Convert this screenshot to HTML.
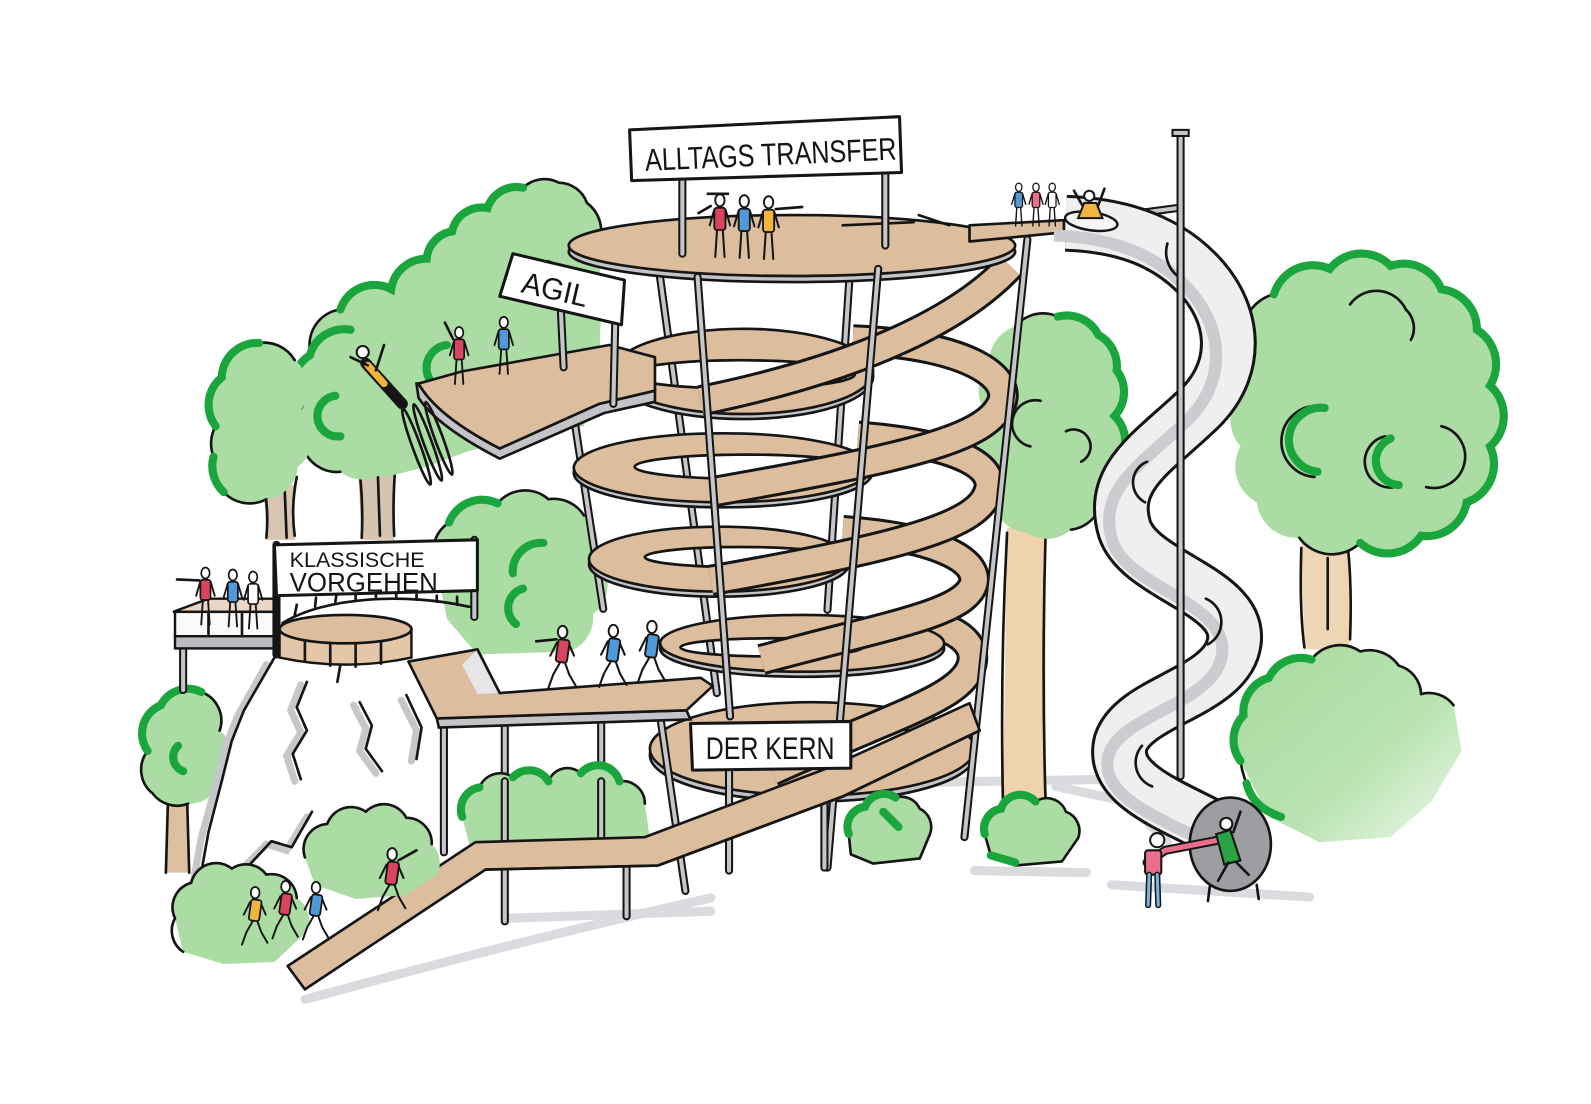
<!DOCTYPE html>
<html><head><meta charset="utf-8">
<style>
html,body{margin:0;padding:0;background:#fff;}
svg{display:block;}
text{font-family:"Liberation Sans",sans-serif;fill:#141414;}
</style></head><body>
<svg width="1591" height="1104" viewBox="0 0 1567 1088" xmlns="http://www.w3.org/2000/svg">
<defs>
<style>
.k{fill:none;stroke:#151515;stroke-width:2.6;stroke-linecap:round;stroke-linejoin:round}
.g{fill:#abdca3}
.dg{fill:none;stroke:#1aa63c;stroke-width:8;stroke-linecap:round}
.sh{fill:none;stroke:#dadbde;stroke-width:9;stroke-linecap:round}
.tan{fill:#dcbd9d;stroke:#151515;stroke-width:2.6;stroke-linejoin:round}
.rim{fill:#c4c4c8;stroke:#151515;stroke-width:2.6}
.pk{stroke:#151515;stroke-width:8;stroke-linecap:round}
.pg{stroke:#c6c6ca;stroke-width:4;stroke-linecap:round}
.bk{fill:none;stroke:#151515;stroke-width:31;stroke-linecap:butt}
.bt{fill:none;stroke:#dcbd9d;stroke-width:25;stroke-linecap:butt}
</style>
<linearGradient id="b1g" x1="0" y1="0" x2="1" y2="1">
<stop offset="0" stop-color="#a6da9e"/><stop offset="0.6" stop-color="#b9e3b1"/><stop offset="1" stop-color="#f0f9ee"/>
</linearGradient>
<mask id="tm"><rect x="0" y="0" width="1567" height="1088" fill="black"/>
<path d="M1050,220 C1110,222 1150,240 1178,268 C1218,308 1222,362 1182,402 C1135,447 1092,470 1108,522 C1124,568 1222,582 1216,632 C1210,682 1118,690 1104,732 C1094,772 1150,792 1196,816" stroke="white" stroke-width="52" fill="none"/></mask>
<symbol id="ps" viewBox="0 0 24 70" overflow="visible">
<g stroke="#151515" stroke-width="2.2" stroke-linecap="round" fill="none">
<line x1="9" y1="38" x2="7" y2="68"/><line x1="15" y1="38" x2="17" y2="68"/>
<line x1="6" y1="17" x2="1" y2="34"/><line x1="18" y1="17" x2="23" y2="34"/></g>
<rect x="6" y="15" width="12" height="24" rx="3" fill="currentColor" stroke="#151515" stroke-width="2"/>
<ellipse cx="12" cy="7" rx="5" ry="6.5" fill="#fff" stroke="#151515" stroke-width="2"/>
</symbol>
<symbol id="pw" viewBox="0 0 30 70" overflow="visible">
<g stroke="#151515" stroke-width="2.2" stroke-linecap="round" fill="none">
<polyline points="13,38 5,52 0,66"/><polyline points="17,38 22,52 29,64"/>
<line x1="9" y1="18" x2="2" y2="32"/><line x1="21" y1="18" x2="27" y2="32"/></g>
<rect x="9" y="15" width="12" height="24" rx="3" fill="currentColor" stroke="#151515" stroke-width="2" transform="rotate(8 15 27)"/>
<ellipse cx="15" cy="7" rx="5" ry="6.5" fill="#fff" stroke="#151515" stroke-width="2"/>
</symbol>
</defs>

<!-- ground shadows -->
<path class="sh" d="M850,772 L1095,768"/>
<path class="sh" d="M960,858 L1070,860"/>
<path class="sh" d="M1095,872 L1290,884"/>
<path class="sh" d="M300,985 C400,958 520,925 700,885"/>
<path class="sh" d="M500,905 L700,898"/>
<path class="sh" d="M1040,775 L1110,790 L1150,830"/>

<!-- trunks -->
<path d="M258,478 Q262,505 262,532 L290,532 Q288,505 292,478 Z" fill="#d8c6b2"/>
<path class="k" d="M258,470 Q265,500 262,530 M280,480 L282,530 M292,470 Q286,500 290,528"/>
<path d="M352,455 L356,532 L388,532 L390,455 Z" fill="#d6c4b0"/>
<path class="k" d="M352,450 Q358,490 356,530 M372,470 L374,528 M390,450 Q386,490 388,528"/>
<path d="M165,790 L163,860 L186,860 L184,790 Z" fill="#dcc0a0"/>
<path class="k" d="M165,790 L163,860 M184,790 L186,860"/>
<path d="M992,520 L988,792 L1030,792 L1030,520 Z" fill="#eed3ae"/>
<path class="k" d="M992,525 Q985,660 988,792 M1030,525 Q1026,660 1030,792"/>
<path d="M1282,535 L1285,640 L1330,640 L1328,535 Z" fill="#eed6b5"/>
<path class="k" d="M1282,540 Q1280,600 1285,638 M1308,550 L1308,620 M1328,540 Q1332,580 1330,630"/>

<!-- left trees -->
<path class="g" d="M305,345 A35 35 0 0 1 335,305 A35 35 0 0 1 385,285 A35 35 0 0 1 420,255 A30 30 0 0 1 445,228 A30 30 0 0 1 480,205 A30 30 0 0 1 515,185 A30 30 0 0 1 550,180 A30 30 0 0 1 578,200 A35 35 0 0 1 590,240 L592,300 L590,360 L575,420 L520,430 L460,445 L420,460 L380,470 L330,460 L305,410 Z"/>
<path class="k" d="M305,345 A35 35 0 0 1 335,305 A35 35 0 0 1 385,285 A35 35 0 0 1 420,255 A30 30 0 0 1 445,228 A30 30 0 0 1 480,205 A30 30 0 0 1 515,185 A30 30 0 0 1 550,180 A30 30 0 0 1 578,200 A35 35 0 0 1 590,240"/>
<path class="dg" d="M335,305 A35 35 0 0 1 385,285 A35 35 0 0 1 420,255 A30 30 0 0 1 445,228 A30 30 0 0 1 480,205 A30 30 0 0 1 515,185"/>
<path class="dg" d="M440,340 A22 22 0 0 0 445,385 M540,260 A18 18 0 0 0 545,300"/>
<path class="g" d="M295,400 A35 35 0 0 1 305,350 A35 35 0 0 1 345,325 A35 35 0 0 1 385,325 A35 35 0 0 1 398,365 A35 35 0 0 1 398,420 A35 35 0 0 1 382,462 A35 35 0 0 1 335,465 A35 35 0 0 1 298,440 A35 35 0 0 1 295,400 Z"/>
<path class="k" d="M295,400 A35 35 0 0 1 305,350 A35 35 0 0 1 345,325 M335,465 A35 35 0 0 1 298,440 A35 35 0 0 1 295,400"/>
<path class="dg" d="M295,400 A35 35 0 0 1 305,350 A35 35 0 0 1 345,325 M330,390 A20 20 0 0 0 335,430"/>
<path class="g" d="M212,420 A35 35 0 0 1 218,372 A35 35 0 0 1 255,338 A35 35 0 0 1 290,355 A35 35 0 0 1 295,405 A35 35 0 0 1 293,460 A35 35 0 0 1 262,492 A35 35 0 0 1 220,485 A35 35 0 0 1 210,450 A35 35 0 0 1 212,420 Z"/>
<path class="k" d="M212,420 A35 35 0 0 1 218,372 A35 35 0 0 1 255,338 A35 35 0 0 1 290,355 M262,492 A35 35 0 0 1 220,485 A35 35 0 0 1 210,450 A35 35 0 0 1 212,420"/>
<path class="dg" d="M212,420 A35 35 0 0 1 218,372 A35 35 0 0 1 255,338 M220,485 A35 35 0 0 1 210,450"/>
<path class="g" d="M430,560 A35 35 0 0 1 442,515 A35 35 0 0 1 490,496 A35 35 0 0 1 540,492 A35 35 0 0 1 575,508 A35 35 0 0 1 586,550 A35 35 0 0 1 584,605 A35 35 0 0 1 560,642 L470,645 L440,610 Z"/>
<path class="k" d="M430,560 A35 35 0 0 1 442,515 A35 35 0 0 1 490,496 A35 35 0 0 1 540,492 A35 35 0 0 1 575,508"/>
<path class="dg" d="M442,515 A35 35 0 0 1 490,496 M505,565 A28 28 0 0 1 535,535 M508,615 A20 20 0 0 1 515,580"/>
<path class="g" d="M145,740 A30 30 0 0 1 158,695 A30 30 0 0 1 198,682 A30 30 0 0 1 216,720 A30 30 0 0 1 216,768 A30 30 0 0 1 185,792 A30 30 0 0 1 150,782 A30 30 0 0 1 145,740 Z"/>
<path class="k" d="M145,740 A30 30 0 0 1 158,695 A30 30 0 0 1 198,682 A30 30 0 0 1 216,720 M185,792 A30 30 0 0 1 150,782 A30 30 0 0 1 145,740"/>
<path class="dg" d="M145,740 A30 30 0 0 1 158,695 A30 30 0 0 1 198,682 M175,735 A15 15 0 0 0 180,760"/>

<!-- right-middle tree -->
<path class="g" d="M975,360 A35 35 0 0 1 1000,322 A35 35 0 0 1 1042,312 A35 35 0 0 1 1082,330 A35 35 0 0 1 1100,365 A35 35 0 0 1 1098,410 A35 35 0 0 1 1102,455 A35 35 0 0 1 1085,495 A35 35 0 0 1 1055,522 A35 35 0 0 1 1012,525 A35 35 0 0 1 980,500 A35 35 0 0 1 970,455 A35 35 0 0 1 970,405 A35 35 0 0 1 975,360 Z"/>
<path class="k" d="M1000,322 A35 35 0 0 1 1042,312 A35 35 0 0 1 1082,330 A35 35 0 0 1 1100,365 A35 35 0 0 1 1098,410 A35 35 0 0 1 1102,455 A35 35 0 0 1 1085,495 A35 35 0 0 1 1055,522"/>
<path class="dg" d="M1042,312 A35 35 0 0 1 1082,330 A35 35 0 0 1 1100,365 A35 35 0 0 1 1098,410 A35 35 0 0 1 1102,455 A35 35 0 0 1 1085,495"/>
<path class="k" d="M1025,395 A20 20 0 0 0 1015,440 M1050,425 A15 15 0 0 1 1065,455"/>

<!-- big right tree -->
<path class="g" d="M1228,345 A40 40 0 0 1 1255,290 A40 40 0 0 1 1310,265 A40 40 0 0 1 1370,262 A40 40 0 0 1 1420,285 A40 40 0 0 1 1455,325 A40 40 0 0 1 1468,380 A40 40 0 0 1 1468,440 A40 40 0 0 1 1445,495 A40 40 0 0 1 1400,528 A40 40 0 0 1 1340,535 A40 40 0 0 1 1280,530 A40 40 0 0 1 1238,495 A40 40 0 0 1 1222,440 A40 40 0 0 1 1220,390 A40 40 0 0 1 1228,345 Z"/>
<path class="k" d="M1228,345 A40 40 0 0 1 1255,290 A40 40 0 0 1 1310,265 A40 40 0 0 1 1370,262 A40 40 0 0 1 1420,285 A40 40 0 0 1 1455,325 A40 40 0 0 1 1468,380 A40 40 0 0 1 1468,440 A40 40 0 0 1 1445,495 A40 40 0 0 1 1400,528 A40 40 0 0 1 1340,535 A40 40 0 0 1 1280,530"/>
<path class="dg" d="M1255,290 A40 40 0 0 1 1310,265 A40 40 0 0 1 1370,262 A40 40 0 0 1 1420,285 A40 40 0 0 1 1455,325 A40 40 0 0 1 1468,380 A40 40 0 0 1 1468,440 A40 40 0 0 1 1445,495 A40 40 0 0 1 1400,528 A40 40 0 0 1 1340,535"/>
<path class="k" d="M1330,300 A32 32 0 0 1 1385,305 A25 25 0 0 1 1390,335 M1300,400 A30 30 0 0 0 1295,470 M1365,430 A25 25 0 0 0 1375,480 M1420,420 A28 28 0 0 1 1405,480"/>
<path class="dg" d="M1305,402 A30 30 0 0 0 1298,465 M1370,432 A24 24 0 0 0 1378,478"/>

<!-- back tower poles -->
<line class="pk" x1="650" y1="273" x2="706" y2="683"/><line class="pg" x1="650" y1="273" x2="706" y2="683"/>
<line class="pk" x1="837" y1="269" x2="815" y2="601"/><line class="pg" x1="837" y1="269" x2="815" y2="601"/>
<line class="pk" x1="565" y1="410" x2="594" y2="600"/><line class="pg" x1="565" y1="410" x2="594" y2="600"/>

<!-- spiral (bottom to top) -->
<path class="rim" fill-rule="evenodd" d="M640,744 a160,46 0 1,0 320,0 a160,46 0 1,0 -320,0 Z M682,730 a118,17 0 1,0 236,0 a118,17 0 1,0 -236,0 Z"/>
<path class="tan" fill-rule="evenodd" d="M640,738 a160,46 0 1,0 320,0 a160,46 0 1,0 -320,0 Z M682,730 a118,17 0 1,0 236,0 a118,17 0 1,0 -236,0 Z"/>
<path class="bk" d="M900,612 C950,618 965,640 955,660 C940,690 880,705 760,760"/>
<path class="bt" d="M900,612 C950,618 965,640 955,660 C940,690 880,705 760,760"/>
<path class="rim" fill-rule="evenodd" d="M650,639 a140,28 0 1,0 280,0 a140,28 0 1,0 -280,0 Z M670,638 a90,9 0 1,0 180,0 a90,9 0 1,0 -180,0 Z"/>
<path class="tan" fill-rule="evenodd" d="M650,634 a140,28 0 1,0 280,0 a140,28 0 1,0 -280,0 Z M670,638 a90,9 0 1,0 180,0 a90,9 0 1,0 -180,0 Z"/>
<path class="bk" d="M830,523 C930,530 968,555 958,578 C945,605 880,615 750,650"/>
<path class="bt" d="M830,523 C930,530 968,555 958,578 C945,605 880,615 750,650"/>
<path class="rim" fill-rule="evenodd" d="M580,556 a128,32 0 1,0 256,0 a128,32 0 1,0 -256,0 Z M635,549 a95,10 0 1,0 190,0 a95,10 0 1,0 -190,0 Z"/>
<path class="tan" fill-rule="evenodd" d="M580,551 a128,32 0 1,0 256,0 a128,32 0 1,0 -256,0 Z M635,549 a95,10 0 1,0 190,0 a95,10 0 1,0 -190,0 Z"/>
<path class="bk" d="M845,430 C950,438 985,462 972,488 C958,520 880,540 700,572"/>
<path class="bt" d="M845,430 C950,438 985,462 972,488 C958,520 880,540 700,572"/>
<path class="rim" fill-rule="evenodd" d="M565,466 a147,34 0 1,0 294,0 a147,34 0 1,0 -294,0 Z M625,460 a110,12 0 1,0 220,0 a110,12 0 1,0 -220,0 Z"/>
<path class="tan" fill-rule="evenodd" d="M565,461 a147,34 0 1,0 294,0 a147,34 0 1,0 -294,0 Z M625,460 a110,12 0 1,0 220,0 a110,12 0 1,0 -220,0 Z"/>
<path class="bk" d="M840,335 C960,340 1000,375 985,400 C968,432 900,450 700,485"/>
<path class="bt" d="M840,335 C960,340 1000,375 985,400 C968,432 900,450 700,485"/>
<path class="rim" fill-rule="evenodd" d="M604,371 a128,42 0 1,0 256,0 a128,42 0 1,0 -256,0 Z M618,369 a112,14 0 1,0 224,0 a112,14 0 1,0 -224,0 Z"/>
<path class="tan" fill-rule="evenodd" d="M604,366 a128,42 0 1,0 256,0 a128,42 0 1,0 -256,0 Z M618,369 a112,14 0 1,0 224,0 a112,14 0 1,0 -224,0 Z"/>
<path class="bk" d="M995,262 C950,310 860,360 690,395"/>
<path class="bt" d="M995,262 C950,310 860,360 690,395"/>

<!-- top platform -->
<ellipse cx="780" cy="248" rx="220" ry="30" class="rim"/>
<ellipse cx="780" cy="242" rx="220" ry="30" class="tan"/>
<path class="tan" d="M955,222 L1048,217 L1048,229 L955,238 Z"/>
<path class="k" d="M830,222 L900,219 M905,212 L935,222"/>

<!-- front poles -->
<line class="pk" x1="687" y1="273" x2="719" y2="706"/><line class="pg" x1="687" y1="273" x2="719" y2="706"/>
<line class="pk" x1="865" y1="265" x2="815" y2="855"/><line class="pg" x1="865" y1="265" x2="815" y2="855"/>
<line class="pk" x1="1012" y1="236" x2="950" y2="825"/><line class="pg" x1="1012" y1="236" x2="950" y2="825"/>

<!-- ALLTAGS sign -->
<line class="pk" x1="672" y1="176" x2="672" y2="250"/><line class="pg" x1="672" y1="176" x2="672" y2="250"/>
<line class="pk" x1="872" y1="168" x2="872" y2="242"/><line class="pg" x1="872" y1="168" x2="872" y2="242"/>
<path d="M620,128 L886,115 L888,170 L622,178 Z" fill="#fff" stroke="#151515" stroke-width="3" stroke-linejoin="round"/>
<text x="635" y="163" font-size="31" textLength="248" lengthAdjust="spacingAndGlyphs" transform="rotate(-2.6 755 150)">ALLTAGS TRANSFER</text>

<!-- AGIL platform -->
<path class="rim" d="M410,378 L412,392 Q430,420 492,452 L595,407 L645,396 L645,385 L590,398 L492,442 Q430,410 412,378 Z"/>
<path class="tan" d="M412,378 L455,366 L600,340 L645,352 L645,385 L590,398 L492,442 Q430,410 412,378 Z"/>
<line class="pk" x1="552" y1="300" x2="555" y2="362"/><line class="pg" x1="552" y1="300" x2="555" y2="362"/>
<line class="pk" x1="606" y1="312" x2="604" y2="398"/><line class="pg" x1="606" y1="312" x2="604" y2="398"/>
<path d="M505,250 L615,276 L612,320 L492,292 Z" fill="#fff" stroke="#151515" stroke-width="3" stroke-linejoin="round"/>
<text x="513" y="296" font-size="30" textLength="66" lengthAdjust="spacingAndGlyphs" transform="rotate(13 548 288)">AGIL</text>

<!-- jumper + bungee -->
<ellipse cx="410" cy="440" rx="4" ry="40" transform="rotate(-20 410 440)" class="k"/>
<ellipse cx="421" cy="436" rx="4" ry="40" transform="rotate(-20 421 436)" class="k"/>
<ellipse cx="432" cy="432" rx="4" ry="38" transform="rotate(-20 432 432)" class="k"/>
<line x1="360" y1="358" x2="396" y2="398" stroke="#151515" stroke-width="11" stroke-linecap="round"/>
<line x1="362" y1="360" x2="378" y2="378" stroke="#f2b53c" stroke-width="7" stroke-linecap="round"/>
<circle cx="357" cy="347" r="6" fill="#fff" stroke="#151515" stroke-width="2"/>
<path class="k" d="M362,360 L345,352 M370,365 L378,340"/>

<!-- rock -->
<path d="M270,648 L240,700 L228,730 L218,770 L205,820 L196,870 L300,880 L420,840 L430,700 L400,650 Z" fill="#fff"/>
<g fill="none" stroke="#c6c7cb" stroke-width="7" stroke-linecap="round">
<path d="M262,655 L234,705 L222,735 L212,775 L198,825 L190,870"/>
<path d="M296,675 L286,700 L296,722 L282,745 L290,770"/>
<path d="M348,695 L360,718 L354,740 L370,762"/>
<path d="M395,690 L410,720 L405,750"/>
<path d="M235,860 L262,832 L282,838 L302,805"/>
</g>
<g class="k">
<path d="M270,648 L240,700 L228,730 L218,770 L205,820 L196,870"/>
<path d="M302,672 L292,697 L302,720 L288,743 L296,768"/>
<path d="M335,655 L332,672"/>
<path d="M354,692 L366,715 L360,738 L376,760"/>
<path d="M400,685 L415,717 L410,748"/>
<path d="M240,858 L267,829 L287,835 L307,800"/>
</g>

<!-- left deck -->
<line class="pk" x1="180" y1="638" x2="180" y2="680"/><line class="pg" x1="180" y1="638" x2="180" y2="680"/>
<path d="M170,603 L205,590 L272,590 L272,603 Z" fill="#ead6c6" stroke="#151515" stroke-width="2.4"/>
<rect x="172" y="603" width="100" height="24" fill="#fafafa" stroke="#151515" stroke-width="2.4"/>
<rect x="172" y="627" width="100" height="12" fill="#bdbdc1" stroke="#151515" stroke-width="2.4"/>
<path class="k" d="M205,603 L205,627 M238,603 L238,627"/>
<use href="#ps" x="192" y="558" width="20" height="60" color="#d9455f"/>
<use href="#ps" x="219" y="560" width="20" height="60" color="#4f9ad6"/>
<use href="#ps" x="239" y="562" width="20" height="60" color="#ffffff"/>
<path class="k" d="M196,572 L174,571"/>

<!-- round deck + KLASSISCHE sign -->
<path d="M275,620 L275,648 Q340,662 405,648 L405,620 Z" fill="#e4c7a8" stroke="#151515" stroke-width="2.4"/>
<path class="k" d="M300,626 L300,652 M325,628 L325,656 M350,628 L350,657 M375,626 L375,654"/>
<ellipse cx="340" cy="620" rx="65" ry="14" class="tan"/>
<line class="pk" x1="272" y1="537" x2="272" y2="645"/>
<line class="pk" x1="467" y1="532" x2="467" y2="608"/><line class="pg" x1="467" y1="532" x2="467" y2="608"/>
<path class="k" d="M278,614 C320,588 400,584 462,598"/>
<path class="k" d="M290,606 L292,596 M310,598 L311,589 M330,593 L331,587 M350,591 L350,586 M370,590 L370,585 M390,590 L390,585 M410,591 L410,586 M430,593 L430,587 M450,596 L450,588"/>
<path d="M270,537 L470,532 L470,582 L272,587 Z" fill="#fff" stroke="#151515" stroke-width="3" stroke-linejoin="round"/>
<text x="285" y="559" font-size="21" textLength="133" lengthAdjust="spacingAndGlyphs">KLASSISCHE</text>
<text x="285" y="583" font-size="26" textLength="146" lengthAdjust="spacingAndGlyphs">VORGEHEN</text>

<!-- hex platform poles -->
<line class="pk" x1="437" y1="712" x2="437" y2="840"/><line class="pg" x1="437" y1="712" x2="437" y2="840"/>
<line class="pk" x1="497" y1="712" x2="497" y2="838"/><line class="pg" x1="497" y1="712" x2="497" y2="838"/>
<line class="pk" x1="592" y1="708" x2="592" y2="830"/><line class="pg" x1="592" y1="708" x2="592" y2="830"/>
<line class="pk" x1="650" y1="705" x2="675" y2="878"/><line class="pg" x1="650" y1="705" x2="675" y2="878"/>

<!-- hex platform -->
<path class="rim" d="M430,708 L676,700 L680,709 L432,717 Z"/>
<path class="tan" d="M402,652 L470,640 L492,683 L690,668 L702,676 L676,700 L430,708 Z"/>
<path d="M470,640 L492,683 L470,684 L455,655 Z" fill="#e6e6e8" stroke="none"/>
<path class="k" d="M470,640 L492,683"/>
<use href="#pw" x="540" y="615" width="28" height="68" color="#d9455f"/>
<use href="#pw" x="590" y="614" width="28" height="68" color="#4f9ad6"/>
<use href="#pw" x="628" y="610" width="28" height="68" color="#4f9ad6"/>
<path class="k" d="M548,630 L528,632"/>

<!-- bushes mid -->
<path class="g" d="M455,805 A22 22 0 0 1 472,776 A22 22 0 0 1 505,766 A22 22 0 0 1 540,770 A20 20 0 0 1 572,762 A22 22 0 0 1 610,770 A22 22 0 0 1 635,792 L640,826 L600,836 L520,838 L462,832 Z"/>
<path class="k" d="M455,805 A22 22 0 0 1 472,776 A22 22 0 0 1 505,766 A22 22 0 0 1 540,770 A20 20 0 0 1 572,762 A22 22 0 0 1 610,770 A22 22 0 0 1 635,792"/>
<path class="dg" d="M455,805 A22 22 0 0 1 472,776 M505,766 A22 22 0 0 1 540,770 M572,762 A22 22 0 0 1 610,770"/>
<line class="pk" x1="497" y1="770" x2="497" y2="838"/><line class="pg" x1="497" y1="770" x2="497" y2="838"/>
<line class="pk" x1="592" y1="770" x2="592" y2="830"/><line class="pg" x1="592" y1="770" x2="592" y2="830"/>
<path class="g" d="M836,822 A20 20 0 0 1 852,795 A20 20 0 0 1 882,786 A20 20 0 0 1 906,797 A20 20 0 0 1 916,822 L906,846 L860,851 L838,842 Z"/>
<path class="k" d="M836,822 A20 20 0 0 1 852,795 A20 20 0 0 1 882,786 A20 20 0 0 1 906,797 A20 20 0 0 1 916,822 L906,846 L860,851 L838,842 Z"/>
<path class="dg" d="M836,822 A20 20 0 0 1 852,795 A20 20 0 0 1 882,786 M870,800 L885,815"/>
<path class="g" d="M970,822 A20 20 0 0 1 986,797 A20 20 0 0 1 1020,790 A20 20 0 0 1 1050,800 A20 20 0 0 1 1062,826 L1046,849 L1000,853 L976,843 Z"/>
<path class="k" d="M970,822 A20 20 0 0 1 986,797 A20 20 0 0 1 1020,790 A20 20 0 0 1 1050,800 A20 20 0 0 1 1062,826 L1046,849 L1000,853 L976,843 Z"/>
<path class="dg" d="M970,822 A20 20 0 0 1 986,797 A20 20 0 0 1 1020,790 M976,843 L1000,850"/>

<!-- DER KERN posts, lower ramp -->
<line class="pk" x1="718" y1="758" x2="718" y2="858"/><line class="pg" x1="718" y1="758" x2="718" y2="858"/>
<line class="pk" x1="812" y1="757" x2="812" y2="855"/><line class="pg" x1="812" y1="757" x2="812" y2="855"/>
<line class="pk" x1="497" y1="855" x2="497" y2="908"/><line class="pg" x1="497" y1="855" x2="497" y2="908"/>
<line class="pk" x1="617" y1="853" x2="617" y2="903"/><line class="pg" x1="617" y1="853" x2="617" y2="903"/>
<path class="tan" d="M283,952 L468,830 L635,825 L815,757 L955,693 L965,720 L830,785 L648,853 L478,857 L300,975 Z"/>
<path class="k" d="M478,857 L648,853 L830,785 L965,720"/>
<path d="M680,713 L838,711 L838,757 L682,759 Z" fill="#fff" stroke="#151515" stroke-width="3" stroke-linejoin="round"/>
<text x="695" y="748" font-size="31" textLength="127" lengthAdjust="spacingAndGlyphs">DER KERN</text>

<!-- bottom-left bushes -->
<path class="g" d="M300,845 A25 25 0 0 1 322,812 A25 25 0 0 1 360,800 A25 25 0 0 1 400,806 A25 25 0 0 1 425,832 A25 25 0 0 1 430,862 L400,882 L350,886 L310,872 Z"/>
<path class="k" d="M300,845 A25 25 0 0 1 322,812 A25 25 0 0 1 360,800 A25 25 0 0 1 400,806 A25 25 0 0 1 425,832"/>
<path class="g" d="M172,905 A25 25 0 0 1 188,870 A25 25 0 0 1 228,856 A25 25 0 0 1 262,862 A25 25 0 0 1 292,885 A25 25 0 0 1 300,920 L270,948 L220,950 L180,938 Z"/>
<path class="k" d="M172,905 A25 25 0 0 1 188,870 A25 25 0 0 1 228,856 A25 25 0 0 1 262,862 A25 25 0 0 1 292,885 M180,938 A25 25 0 0 1 172,905"/>
<use href="#pw" x="238" y="870" width="26" height="68" color="#f2b53c"/>
<use href="#pw" x="268" y="862" width="26" height="72" color="#d9455f"/>
<use href="#pw" x="298" y="866" width="26" height="66" color="#4f9ad6"/>
<use href="#pw" x="372" y="832" width="28" height="72" color="#d9455f"/>
<path class="k" d="M392,848 L410,838"/>

<!-- right bush -->
<path fill="url(#b1g)" d="M1222,750 A35 35 0 0 1 1225,705 A35 35 0 0 1 1250,668 A35 35 0 0 1 1292,650 A35 35 0 0 1 1340,642 A35 35 0 0 1 1378,656 A30 30 0 0 1 1400,684 A30 30 0 0 1 1432,695 L1440,740 L1410,790 L1370,825 L1300,830 L1250,805 Z"/>
<path class="k" d="M1222,750 A35 35 0 0 1 1225,705 A35 35 0 0 1 1250,668 A35 35 0 0 1 1292,650 A35 35 0 0 1 1340,642 A35 35 0 0 1 1378,656 A30 30 0 0 1 1400,684 A30 30 0 0 1 1432,695 M1222,750 Q1228,790 1260,805"/>
<path class="dg" d="M1222,750 A35 35 0 0 1 1225,705 A35 35 0 0 1 1250,668 A35 35 0 0 1 1292,650 M1228,772 Q1234,796 1262,805"/>

<!-- slide -->
<line class="pk" x1="1100" y1="213" x2="1160" y2="205"/><line class="pg" x1="1100" y1="213" x2="1160" y2="205"/>
<path d="M1050,220 C1110,222 1150,240 1178,268 C1218,308 1222,362 1182,402 C1135,447 1092,470 1108,522 C1124,568 1222,582 1216,632 C1210,682 1118,690 1104,732 C1094,772 1150,792 1196,816" stroke="#151515" stroke-width="56" fill="none"/>
<path d="M1050,220 C1110,222 1150,240 1178,268 C1218,308 1222,362 1182,402 C1135,447 1092,470 1108,522 C1124,568 1222,582 1216,632 C1210,682 1118,690 1104,732 C1094,772 1150,792 1196,816" stroke="#efeff0" stroke-width="50" fill="none"/>
<path mask="url(#tm)" transform="translate(-12,12)" d="M1050,220 C1110,222 1150,240 1178,268 C1218,308 1222,362 1182,402 C1135,447 1092,470 1108,522 C1124,568 1222,582 1216,632 C1210,682 1118,690 1104,732 C1094,772 1150,792 1196,816" stroke="#cbccd0" stroke-width="12" fill="none"/>
<path class="k" d="M1150,240 A30 30 0 0 0 1160,272 M1130,455 A22 22 0 0 0 1128,495 M1188,590 A25 25 0 0 1 1190,635 M1125,735 A25 25 0 0 0 1135,775"/>
<line class="pk" x1="1163" y1="132" x2="1163" y2="765"/><line class="pg" x1="1163" y1="132" x2="1163" y2="765"/>
<rect x="1155" y="128" width="16" height="6" fill="#c6c6ca" stroke="#151515" stroke-width="2"/>
<ellipse cx="1212" cy="832" rx="40" ry="46" fill="#9d9ea2" stroke="#151515" stroke-width="2.6"/>
<path class="k" d="M1192,872 L1190,888 M1238,872 L1240,886"/>
<ellipse cx="1075" cy="218" rx="26" ry="9" transform="rotate(8 1075 218)" fill="#f6f6f6" stroke="#151515" stroke-width="2.4"/>

<!-- people near slide top -->
<use href="#ps" x="996" y="178" width="15" height="48" color="#4f9ad6"/>
<use href="#ps" x="1013" y="178" width="15" height="48" color="#e96d8e"/>
<use href="#ps" x="1029" y="178" width="15" height="48" color="#ffffff"/>
<path d="M1062,215 L1068,200 L1080,200 L1086,215 Z" fill="#f2b53c" stroke="#151515" stroke-width="2"/>
<circle cx="1073" cy="193" r="5" fill="#fff" stroke="#151515" stroke-width="2"/>
<path class="k" d="M1066,202 L1058,188 M1082,202 L1088,186"/>

<!-- people on top platform -->
<use href="#ps" x="698" y="188" width="22" height="70" color="#d9455f"/>
<use href="#ps" x="722" y="190" width="22" height="68" color="#4f9ad6"/>
<use href="#ps" x="746" y="192" width="22" height="66" color="#f2b53c"/>
<path class="k" d="M700,203 L688,210 M764,206 L790,204"/>
<path d="M696,191 L718,191" stroke="#151515" stroke-width="2.5"/>

<!-- people on AGIL -->
<use href="#ps" x="442" y="318" width="20" height="66" color="#d9455f"/>
<use href="#ps" x="486" y="307" width="20" height="68" color="#4f9ad6"/>
<path class="k" d="M446,334 L438,318"/>

<!-- bottom right people -->
<path d="M1130,850 L1148,838 L1200,828" stroke="#151515" stroke-width="9" stroke-linecap="round" fill="none"/>
<path d="M1130,850 L1148,838 L1200,828" stroke="#e96d8e" stroke-width="5" stroke-linecap="round" fill="none"/>
<rect x="1128" y="838" width="16" height="24" rx="3" fill="#e96d8e" stroke="#151515" stroke-width="2"/>
<circle cx="1140" cy="828" r="7" fill="#fff" stroke="#151515" stroke-width="2"/>
<path d="M1132,862 L1131,892 M1140,862 L1141,892" stroke="#151515" stroke-width="6" stroke-linecap="round"/>
<path d="M1132,862 L1131,892 M1140,862 L1141,892" stroke="#79b6e3" stroke-width="3" stroke-linecap="round"/>
<path d="M1198,822 L1212,818 L1222,848 L1206,852 Z" fill="#2aa344" stroke="#151515" stroke-width="2"/>
<circle cx="1208" cy="812" r="6" fill="#fff" stroke="#151515" stroke-width="2"/>
<path class="k" d="M1210,850 L1200,868 M1218,850 L1230,862 M1215,820 L1222,800"/>
</svg>
</body></html>
